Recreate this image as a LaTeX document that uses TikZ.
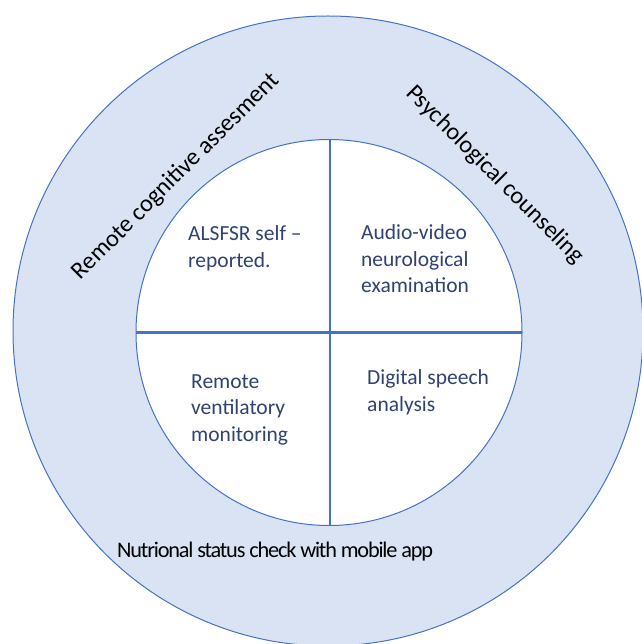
\documentclass[tikz,border=0pt]{standalone}
\usepackage{fontspec}
\setmainfont{Carlito}
\newfontfamily\tightfont[LetterSpace=-5.3]{Carlito}
\definecolor{ringfill}{HTML}{DAE3F3}
\definecolor{ringline}{HTML}{4472C4}
\definecolor{innertext}{HTML}{2F4270}
\begin{document}
\begin{tikzpicture}[x=1pt,y=-1pt,
  lbl/.style={inner sep=0pt, font=\fontsize{21.5}{26.3}\selectfont},
  intext/.style={lbl, text=innertext, align=left, anchor=base west},
  outtext/.style={inner sep=0pt, font=\fontsize{24.3}{29}\selectfont, text=black}]
\useasboundingbox (0,0) rectangle (641,644);
\coordinate (c) at (328,331);
\draw[ringline, fill=ringfill, line width=1pt] (c) circle[radius=315];
\draw[ringline, fill=white, line width=1pt] (329,332.5) circle[radius=193];
\coordinate (vt) at (330,139.5);
\coordinate (vb) at (330,525.5);
\coordinate (hl) at (136,332.5);
\coordinate (hr) at (522,332.5);
\draw[ringline, line width=2.2pt] (vt) -- (vb);
\draw[ringline, line width=2.2pt] (hl) -- (hr);
\node[intext] (q1) at (188,267) {ALSFSR self –\\reported.};
\node[intext] (q2) at (361,292.5) {Audio-video\\neurological\\examination};
\node[intext] (q3) at (191,441) {Remote\\ventilatory\\monitoring};
\node[intext] (q4) at (367,411) {Digital speech\\analysis};
\node[outtext, rotate=45] (o1) at (176,176.5) {Remote cognitive assesment};
\node[outtext, rotate=-45] (o2) at (495,175) {Psychological counseling};
\node[inner sep=0pt, text=black, anchor=base west, font=\tightfont\fontsize{22.3}{27}\selectfont] (o3) at (117,557.5) {Nutrional status check with mobile app};
\end{tikzpicture}
\end{document}
